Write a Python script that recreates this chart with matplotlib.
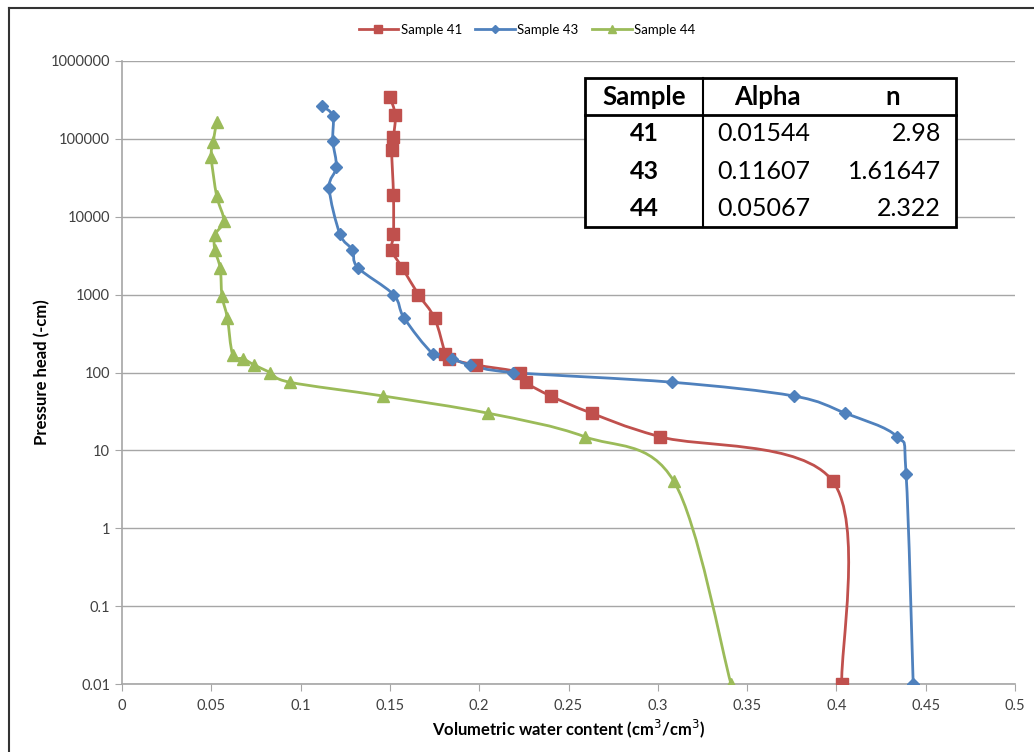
import numpy as np
import matplotlib.pyplot as plt
from matplotlib.path import Path
from matplotlib.patches import PathPatch, Rectangle
from matplotlib.lines import Line2D
from matplotlib.ticker import FixedLocator, FuncFormatter, NullLocator

plt.rcParams['font.family'] = ['Lato', 'DejaVu Sans']

# Sample 41
theta_41 = [0.150, 0.153, 0.152, 0.151, 0.152, 0.152, 0.151, 0.157, 0.166, 0.175,
            0.181, 0.183, 0.198, 0.223, 0.226, 0.240, 0.263, 0.301, 0.398, 0.403]
h_41 = [345000, 203000, 106000, 72000, 19000, 6000, 3750, 2200, 1000, 500,
        175, 150, 125, 100, 75, 50, 30, 15, 4, 0.01]

# Sample 43
theta_43 = [0.112, 0.118, 0.118, 0.120, 0.116, 0.122, 0.129, 0.132, 0.152, 0.158,
            0.174, 0.185, 0.195, 0.219, 0.308, 0.376, 0.405, 0.434, 0.439, 0.443]
h_43 = [265000, 197000, 94000, 43500, 23400, 6000, 3750, 2230, 1000, 500,
        175, 150, 125, 100, 75, 50, 30, 15, 5, 0.01]

# Sample 44
theta_44 = [0.053, 0.051, 0.050, 0.053, 0.057, 0.052, 0.052, 0.055, 0.056, 0.059,
            0.062, 0.068, 0.074, 0.083, 0.094, 0.146, 0.205, 0.259, 0.309, 0.341]
h_44 = [166000, 90000, 58000, 18500, 8900, 5850, 3750, 2190, 960, 500,
        170, 150, 125, 100, 75, 50, 30, 15, 4, 0.01]

table_rows = [['41', '0.01544', '2.98'],
              ['43', '0.11607', '1.61647'],
              ['44', '0.05067', '2.322']]

c41 = '#C0504D'
c43 = '#4F81BD'
c44 = '#9BBB59'


def smooth_path(x, y):
    # Excel-like smoothed line: Catmull-Rom Bezier in (x, log10 y)
    px = np.array(x, float)
    py = np.log10(np.array(y, float))
    n = len(px)
    verts = [(px[0], py[0])]
    codes = [Path.MOVETO]
    for i in range(n - 1):
        a = max(i - 1, 0)
        b = min(i + 2, n - 1)
        c1 = (px[i] + (px[i + 1] - px[a]) / 6, py[i] + (py[i + 1] - py[a]) / 6)
        c2 = (px[i + 1] - (px[b] - px[i]) / 6, py[i + 1] - (py[b] - py[i]) / 6)
        verts += [c1, c2, (px[i + 1], py[i + 1])]
        codes += [Path.CURVE4] * 3
    verts = [(vx, 10 ** vy) for vx, vy in verts]
    return Path(verts, codes)


fig = plt.figure(figsize=(10.34, 7.52), dpi=100)
ax = fig.add_axes([122 / 1034, 1 - 684 / 752, 893 / 1034, 623 / 752])

series = [(theta_41, h_41, c41, 's', 8.5, 'Sample 41'),
          (theta_43, h_43, c43, 'D', 6.5, 'Sample 43'),
          (theta_44, h_44, c44, '^', 9, 'Sample 44')]

handles = []
for x, y, col, mk, ms, lab in series:
    ax.add_patch(PathPatch(smooth_path(x, y), fill=False, edgecolor=col, lw=2, zorder=3))
    ax.plot(x, y, ls='none', marker=mk, ms=ms, color=col, zorder=4)
    handles.append(Line2D([], [], color=col, lw=2, marker=mk, ms=ms * 0.7, label=lab))

ax.set_yscale('log')
ax.set_xlim(0, 0.5)
ax.set_ylim(0.01, 1000000)
ax.xaxis.set_major_locator(FixedLocator(np.arange(0, 0.501, 0.05)))
ax.xaxis.set_major_formatter(FuncFormatter(lambda v, p: '%g' % round(v, 2)))
ax.yaxis.set_major_locator(FixedLocator([10.0 ** k for k in range(-2, 7)]))
ax.yaxis.set_major_formatter(FuncFormatter(lambda v, p: ('%f' % v).rstrip('0').rstrip('.')))
ax.yaxis.set_minor_locator(NullLocator())

ax.grid(axis='y', color='#A6A6A6', lw=1)
ax.set_axisbelow(True)
for s in ['top', 'right']:
    ax.spines[s].set_visible(False)
for s in ['left', 'bottom']:
    ax.spines[s].set_color('#A6A6A6')
    ax.spines[s].set_linewidth(1.2)
ax.tick_params(axis='both', colors='#A6A6A6', labelcolor='#404040', labelsize=10.5, length=5, direction='out')
ax.tick_params(axis='x', pad=6)

ax.set_xlabel('Volumetric water content (cm$^3$/cm$^3$)', fontsize=12, fontweight='bold', labelpad=3)
ax.set_ylabel('Pressure head (-cm)', fontsize=12, fontweight='bold', labelpad=0)

fig.legend(handles=handles, loc='center', bbox_to_anchor=(527 / 1034, 1 - 30 / 752), ncol=3,
           frameon=False, fontsize=9.5, handlelength=3, columnspacing=1.0, handletextpad=0.2)

# table of fitted parameters
tl, tr, tt, tb = 585 / 1034, 956 / 1034, 1 - 78 / 752, 1 - 227 / 752
tdiv = 703 / 1034
rowh = (tt - tb) / 4
fig.patches.append(Rectangle((tl, tb), tr - tl, tt - tb, transform=fig.transFigure,
                             facecolor='white', edgecolor='black', lw=2, zorder=5))
fig.add_artist(Line2D([tdiv, tdiv], [tb, tt], color='black', lw=1.5, transform=fig.transFigure, zorder=6))
fig.add_artist(Line2D([tl, tr], [tt - rowh, tt - rowh], color='black', lw=2, transform=fig.transFigure, zorder=6))
hy = tt - rowh / 2
fig.text((tl + tdiv) / 2, hy, 'Sample', ha='center', va='center', fontsize=18.5, fontweight='bold', zorder=7)
fig.text(767 / 1034, hy, 'Alpha', ha='center', va='center', fontsize=18.5, fontweight='bold', zorder=7)
fig.text(893 / 1034, hy, 'n', ha='center', va='center', fontsize=18.5, fontweight='bold', zorder=7)
for i, (sname, alpha, nval) in enumerate(table_rows):
    ry = tt - rowh * (i + 1.5)
    fig.text((tl + tdiv) / 2, ry, sname, ha='center', va='center', fontsize=18, fontweight='bold', zorder=7)
    fig.text(717 / 1034, ry, alpha, ha='left', va='center', fontsize=18, zorder=7)
    fig.text(941 / 1034, ry, nval, ha='right', va='center', fontsize=18, zorder=7)

# outer chart frame (left and top edges only; the rest is cut off)
fx, fy = 8.5 / 1034, 1 - 7.5 / 752
fig.add_artist(Line2D([fx, fx], [0, fy], color='#333333', lw=1.5, transform=fig.transFigure))
fig.add_artist(Line2D([fx, 1], [fy, fy], color='#333333', lw=1.5, transform=fig.transFigure))

fig.savefig('out.png', dpi=100)
